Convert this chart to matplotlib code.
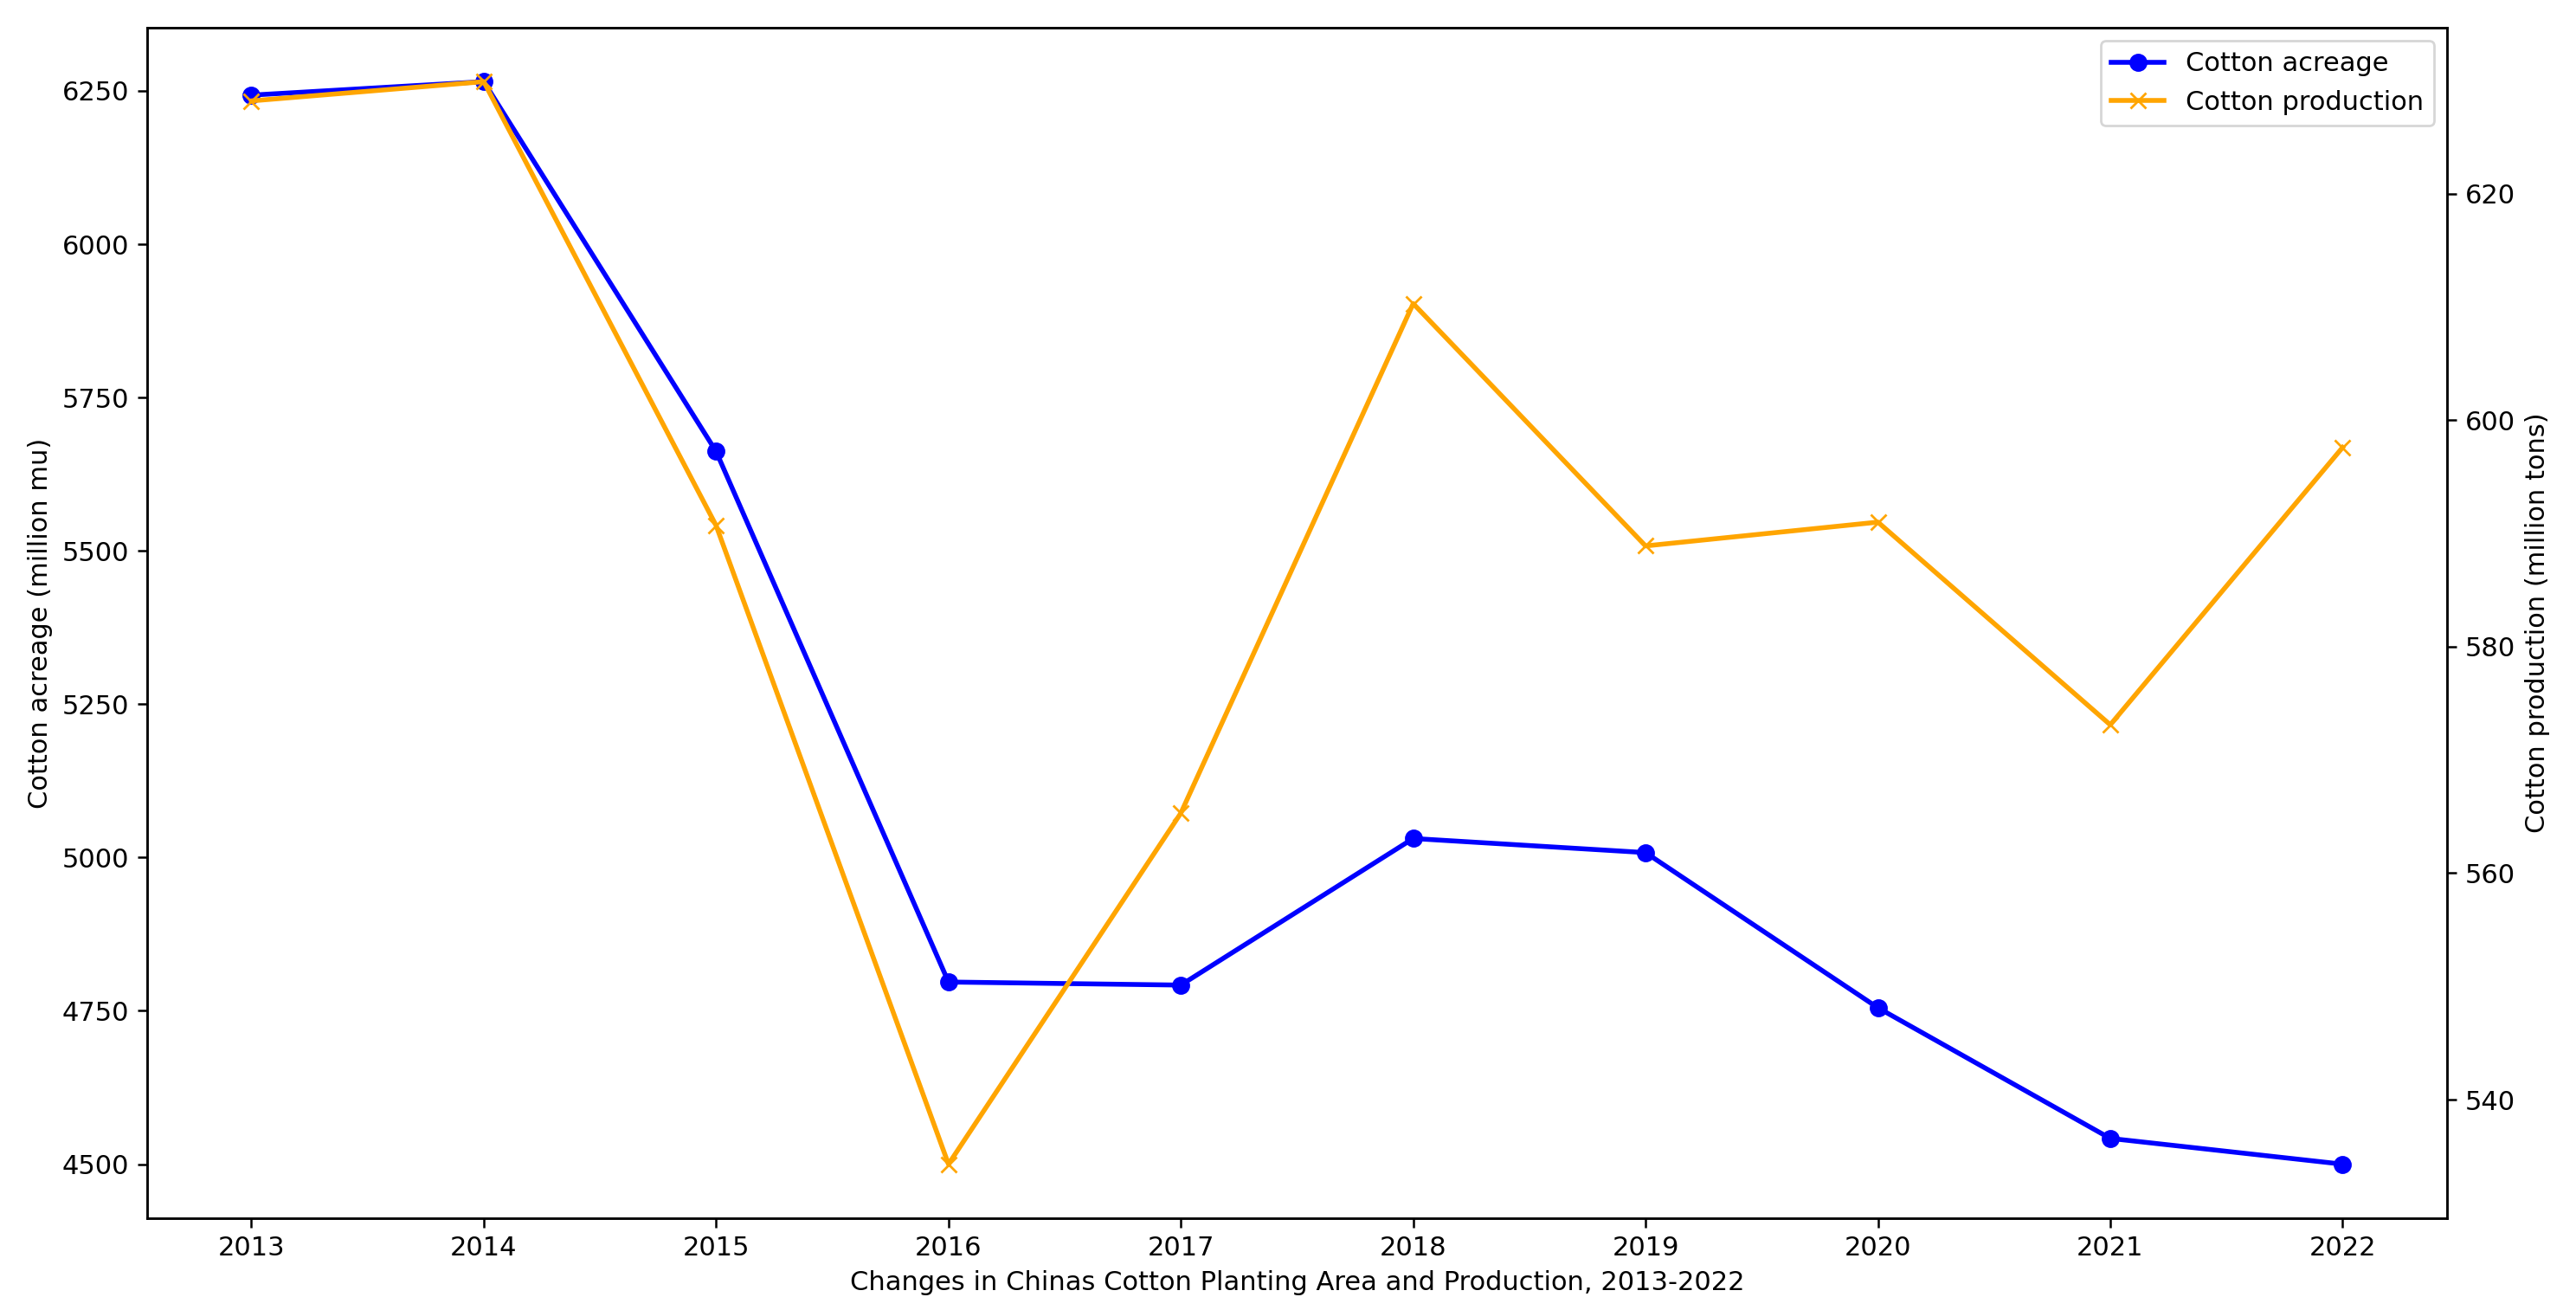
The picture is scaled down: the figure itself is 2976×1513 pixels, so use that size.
import matplotlib
matplotlib.use('Agg')
import matplotlib.pyplot as plt

years = [2013, 2014, 2015, 2016, 2017, 2018, 2019, 2020, 2021, 2022]
acreage = [6243, 6265, 5662, 4797, 4792, 5031, 5008, 4755, 4542, 4500]
production = [628.2, 629.9, 590.7, 534.3, 565.3, 610.3, 588.9, 591.0, 573.1, 597.6]

plt.rcParams['font.size'] = 11
plt.rcParams['axes.linewidth'] = 0.9
plt.rcParams['xtick.major.width'] = 0.9
plt.rcParams['ytick.major.width'] = 0.9
plt.rcParams['xtick.major.size'] = 3.8
plt.rcParams['ytick.major.size'] = 3.8

fig, ax1 = plt.subplots(figsize=(14.88, 7.565), dpi=200)
fig.subplots_adjust(left=0.057, right=0.950, top=0.979, bottom=0.070)

l1, = ax1.plot(years, acreage, color="blue", marker="o", linewidth=2, markersize=6.5, label="Cotton acreage")
ax1.set_ylabel("Cotton acreage (million mu)")
ax1.set_xlabel("Changes in Chinas Cotton Planting Area and Production, 2013-2022")
ax1.set_xticks(years)

ax2 = ax1.twinx()
l2, = ax2.plot(years, production, color="orange", marker="x", linewidth=2, markersize=6.5, label="Cotton production")
ax2.set_ylabel("Cotton production (million tons)")

ax2.legend(handles=[l1, l2], loc="upper right")

fig.savefig("out.png", dpi=200)
